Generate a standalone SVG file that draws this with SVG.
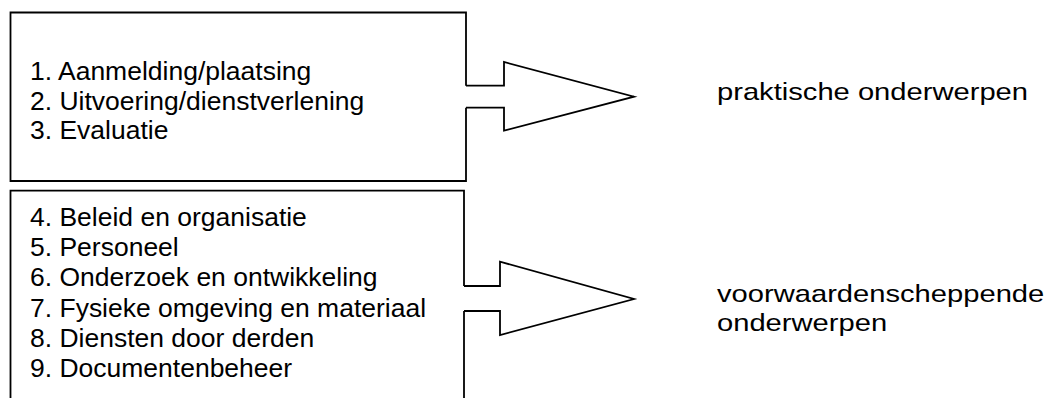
<svg xmlns="http://www.w3.org/2000/svg" width="1051" height="398" viewBox="0 0 1051 398">
<style>
.ln{fill:none;stroke:#000;stroke-width:1.8;stroke-linejoin:miter}
.ar{fill:#fff;stroke:#000;stroke-width:1.8;stroke-linejoin:miter}
.t{font-family:"Liberation Sans",Arial,sans-serif;font-size:25px;fill:#000}
.r{font-family:"Liberation Sans",Arial,sans-serif;font-size:24px;fill:#000}
</style>
<rect width="1051" height="398" fill="#fff"/>
<g id="box-praktisch">
<path class="ln" d="M466,85.7 V12.5 H10.5 V181 H466 V107.7"/>
<g transform="translate(30,0) scale(1.06,1)">
<text class="t" x="0" y="80">1. Aanmelding/plaatsing</text>
<text class="t" x="0" y="109.7">2. Uitvoering/dienstverlening</text>
<text class="t" x="0" y="139.4">3. Evaluatie</text>
</g>
</g>
<g id="box-voorwaarden">
<path class="ln" d="M464,286 V190.7 H10.5 V402"/>
<path class="ln" d="M464,311 V402"/>
<g transform="translate(30,0) scale(1.06,1)">
<text class="t" x="0" y="225.8">4. Beleid en organisatie</text>
<text class="t" x="0" y="256.1">5. Personeel</text>
<text class="t" x="0" y="286.4">6. Onderzoek en ontwikkeling</text>
<text class="t" x="0" y="316.7">7. Fysieke omgeving en materiaal</text>
<text class="t" x="0" y="347">8. Diensten door derden</text>
<text class="t" x="0" y="377.3">9. Documentenbeheer</text>
</g>
</g>
<g id="connectors">
<path class="ln" d="M466,85.7 H504 V62 L634,96.7 L504,130.7 V107.7 H466"/>
<path class="ln" d="M464,286 H500 V261.7 L634,299 L500,335 V311 H464"/>
</g>
<g id="label-praktisch" transform="translate(717,0) scale(1.215,1)">
<text class="r" x="0" y="100.5">praktische onderwerpen</text>
</g>
<g id="label-voorwaarden" transform="translate(717,0) scale(1.215,1)">
<text class="r" x="0" y="301.7">voorwaardenscheppende</text>
<text class="r" x="0" y="331.5">onderwerpen</text>
</g>
</svg>
